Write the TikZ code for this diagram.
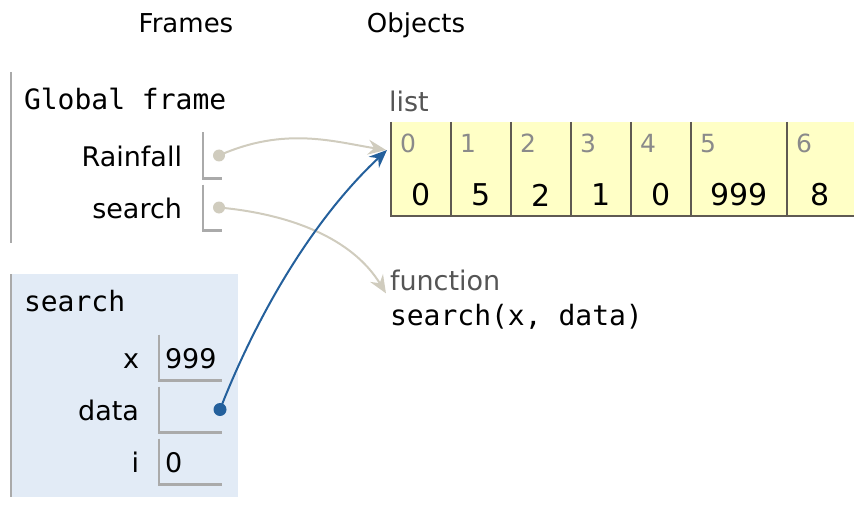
\documentclass[tikz,border=0pt]{standalone}
\usepackage{fontspec}
\setmainfont{DejaVu Sans}
\setmonofont{DejaVu Sans Mono}
\usetikzlibrary{arrows.meta,chains,positioning}

\definecolor{framegray}{HTML}{AAAAAA}
\definecolor{framefill}{HTML}{E2EBF6}
\definecolor{listfill}{HTML}{FFFFC6}
\definecolor{listline}{RGB}{95,90,82}
\definecolor{typegray}{HTML}{555555}
\definecolor{idxgray}{HTML}{8A8A8A}
\definecolor{refbeige}{RGB}{208,204,190}
\definecolor{refblue}{RGB}{36,96,156}

\begin{document}
\begin{tikzpicture}[%
    x=1pt, y=-1pt,              % one unit is one pixel, y runs downwards
    >={Stealth[length=18pt, width=15pt, inset=6pt]},
    node distance=6pt,          % gap between the slots of a frame
    ]
% -------------------------------------------------
% Text and box styles
\tikzset{
  base/.style={inner sep=0pt, outer sep=0pt},
  txt/.style={base, font=\fontsize{27}{32}\selectfont},
  code/.style={base, font=\fontsize{28}{33}\selectfont\ttfamily},
  heading/.style={base, anchor=base, font=\fontsize{26}{31}\selectfont},
  varname/.style={txt, anchor=base east},
  slot/.style={base, minimum height=46pt},
  slotline/.style={draw=framegray, line width=2.2pt},
  frameline/.style={draw=framegray, line width=2.2pt},
  cell/.style={base, on chain, fill=listfill, minimum height=94pt},
  cellline/.style={draw=listline, line width=2.2pt},
  idx/.style={base, anchor=base west, text=idxgray,
    font=\fontsize{25}{30}\selectfont, xshift=9pt, yshift=-31pt},
  val/.style={base, anchor=base, font=\fontsize{30}{36}\selectfont, yshift=-26pt},
  typelabel/.style={txt, anchor=base west, text=typegray},
  dot/.style={circle, inner sep=0pt, minimum size=#1},
  ref/.style={->, line width=2pt},
}
\useasboundingbox (0,0) rectangle (854,508);
% -------------------------------------------------
% Column headings
\node[heading] (frames) at (186,33) {Frames};
\node[heading] (objects) at (416,33) {Objects};

% -------------------------------------------------
% Global frame
\draw[frameline] (11,72) -- (11,243);
\node[code, anchor=base west] (globaltitle) at (24,110) {Global frame};

\node[slot, minimum width=19pt] (rainfallslot) at (212.5,155.5) {};
\node[slot, minimum width=19pt, below=of rainfallslot] (searchslot) {};
\node[varname] (rainfallname) at ([xshift=-21pt, yshift=-10.5pt]rainfallslot.west) {Rainfall};
\node[varname] (searchname) at ([xshift=-21pt, yshift=-10.5pt]searchslot.west) {search};
\node[dot=12pt, fill=refbeige] (rainfallptr) at ([xshift=-3pt]rainfallslot.east) {};
\node[dot=12pt, fill=refbeige] (searchptr) at ([xshift=-3pt]searchslot.east) {};

% -------------------------------------------------
% Frame of the call search(x, data)
\fill[framefill] (11,274) rectangle (238,497);
\draw[frameline] (11,274) -- (11,497);
\node[code, anchor=base west] (calltitle) at (24,311.5) {search};

\node[slot, minimum width=63pt] (xslot) at (190.5,357.5) {};
\node[slot, minimum width=63pt, below=of xslot] (dataslot) {};
\node[slot, minimum width=63pt, below=of dataslot] (islot) {};
\node[varname] (xname) at ([xshift=-20pt, yshift=-10.5pt]xslot.west) {x};
\node[varname] (dataname) at ([xshift=-20pt, yshift=-10.5pt]dataslot.west) {data};
\node[varname] (iname) at ([xshift=-20pt, yshift=-10.5pt]islot.west) {i};
\node[txt, anchor=base west] (xval) at ([xshift=6pt, yshift=-10.5pt]xslot.west) {999};
\node[txt, anchor=base west] (ival) at ([xshift=6pt, yshift=-10.5pt]islot.west) {0};
\node[dot=13pt, fill=refblue] (dataptr) at ([xshift=-2pt]dataslot.east) {};

\foreach \s in {rainfallslot, searchslot, xslot, dataslot, islot}
  \draw[slotline] (\s.north west) |- (\s.south east);

% -------------------------------------------------
% Heap objects: the list and the function
\node[typelabel] (listlabel) at (389,111.5) {list};
\begin{scope}[shift={(421,169)}, start chain=going right, node distance=0pt]
  \foreach \i/\v/\w in {0/0/60, 1/5/60, 2/2/60, 3/1/60, 4/0/60, 5/999/96, 6/8/67}
    \node[cell, minimum width=\w, label={[idx]north west:\i},
      label={[val]center:\v}] (c\i) {};
\end{scope}
\foreach \i in {0,...,6}
  \draw[cellline] (c\i.north west) |- (c\i.south east);

\node[typelabel] (funclabel) at (390,290) {function};
\node[code, anchor=base west] (funcsig) at (390,325) {search(x, data)};

% -------------------------------------------------
% References
\draw[ref, refbeige] (rainfallptr.center)
  .. controls (285,126) and (335,142) .. ([xshift=-5pt, yshift=-28pt]c0.north west);
\draw[ref, refbeige] (searchptr.center)
  .. controls (290,214) and (352,238) .. ([xshift=-4pt, yshift=-3pt]funclabel.south west);
\draw[ref, refblue] (dataptr.center)
  .. controls (255,320) and (310,222) .. ([xshift=-4pt, yshift=-28pt]c0.north west);

% -------------------------------------------------
\end{tikzpicture}
\end{document}
